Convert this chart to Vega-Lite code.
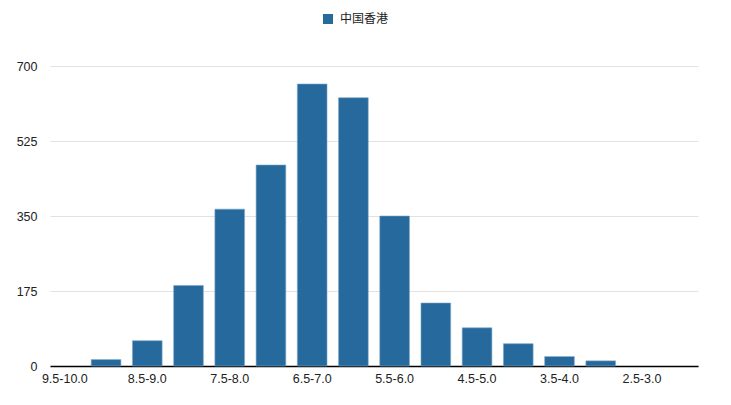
{
  "$schema": "https://vega.github.io/schema/vega-lite/v6.json",
  "width": 648,
  "height": 300,
  "autosize": "none",
  "padding": {"left": 50, "top": 66, "right": 33, "bottom": 39},
  "background": "white",
  "config": {
    "view": {"stroke": null},
    "font": "Liberation Sans"
  },
  "data": {
    "values": [
      {"range": "9.5-10.0", "series": "中国香港", "count": 0},
      {"range": "9.0-9.5", "series": "中国香港", "count": 15},
      {"range": "8.5-9.0", "series": "中国香港", "count": 59},
      {"range": "8.0-8.5", "series": "中国香港", "count": 188},
      {"range": "7.5-8.0", "series": "中国香港", "count": 366},
      {"range": "7.0-7.5", "series": "中国香港", "count": 469},
      {"range": "6.5-7.0", "series": "中国香港", "count": 658},
      {"range": "6.0-6.5", "series": "中国香港", "count": 626},
      {"range": "5.5-6.0", "series": "中国香港", "count": 350},
      {"range": "5.0-5.5", "series": "中国香港", "count": 147},
      {"range": "4.5-5.0", "series": "中国香港", "count": 89},
      {"range": "4.0-4.5", "series": "中国香港", "count": 52},
      {"range": "3.5-4.0", "series": "中国香港", "count": 22},
      {"range": "3.0-3.5", "series": "中国香港", "count": 12},
      {"range": "2.5-3.0", "series": "中国香港", "count": 0},
      {"range": "2.0-2.5", "series": "中国香港", "count": 0}
    ]
  },
  "mark": {"type": "bar", "stroke": "#7ea6c6", "strokeWidth": 0.6},
  "encoding": {
    "x": {
      "field": "range",
      "type": "nominal",
      "sort": null,
      "scale": {"paddingInner": 0.28, "paddingOuter": 0},
      "axis": {
        "title": null,
        "labelAngle": 0,
        "labelFontSize": 12.5,
        "labelColor": "#222",
        "labelPadding": 6,
        "ticks": false,
        "domainColor": "#000",
        "domainWidth": 1.5,
        "labelExpr": "indexof(['9.5-10.0','8.5-9.0','7.5-8.0','6.5-7.0','5.5-6.0','4.5-5.0','3.5-4.0','2.5-3.0'], datum.value) >= 0 ? datum.value : ''"
      }
    },
    "y": {
      "field": "count",
      "type": "quantitative",
      "scale": {"domain": [0, 700], "nice": false},
      "axis": {
        "title": null,
        "values": [0, 175, 350, 525, 700],
        "domain": false,
        "ticks": false,
        "labelFontSize": 12.5,
        "labelColor": "#222",
        "labelPadding": 13,
        "gridColor": "#e2e2e2",
        "gridWidth": 1
      }
    },
    "strokeOpacity": {
      "condition": {"test": "datum.count == 0", "value": 0},
      "value": 1
    },
    "color": {
      "field": "series",
      "type": "nominal",
      "scale": {"range": ["#26699c"]},
      "legend": {
        "title": null,
        "orient": "none",
        "legendX": 272,
        "legendY": -53,
        "symbolType": "square",
        "symbolSize": 100,
        "symbolStrokeWidth": 0,
        "labelFontSize": 12,
        "labelFont": "Noto Sans CJK SC",
        "labelColor": "#222",
        "labelOffset": 6
      }
    }
  }
}
